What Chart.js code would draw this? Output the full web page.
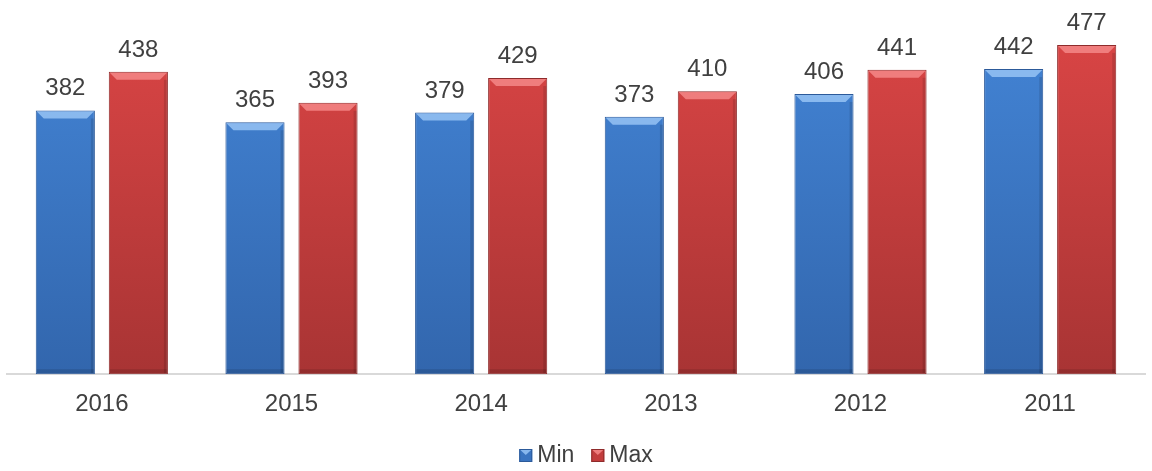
<!DOCTYPE html>
<html>
<head>
<meta charset="utf-8">
<script src="https://cdn.jsdelivr.net/npm/chart.js@4.4.1/dist/chart.umd.min.js"></script>
<style>
    html, body { margin: 0; padding: 0; background: #fff; }
    #wrap { width: 1152px; height: 471px; }
</style>
</head>
<body>
<div id="wrap"><canvas id="chart" width="1152" height="471"></canvas></div>
<script>
const years = ['2016', '2015', '2014', '2013', '2012', '2011'];
const minValues = [382, 365, 379, 373, 406, 442];
const maxValues = [438, 393, 429, 410, 441, 477];

const textColor = '#404040';
const fontFamily = 'Arial, "Liberation Sans", sans-serif';

const seriesStyle = [
    { top: '#4384d5', bottom: '#3266ad', border: '#2c5a9a', light: 'rgba(150,195,245,0.85)', swatch: '#3a74c0' },
    { top: '#da4545', bottom: '#a83434', border: '#8e2b2b', light: 'rgba(245,135,135,0.85)', swatch: '#c23c3c' }
];

// vertical gradient over the chart area for the bar body
function barFill(s) {
    return (context) => {
        const area = context.chart.chartArea;
        if (!area) return s.top;
        const g = context.chart.ctx.createLinearGradient(0, area.top, 0, area.bottom);
        g.addColorStop(0, s.top);
        g.addColorStop(1, s.bottom);
        return g;
    };
}

// bevel on top of each bar, value labels above, legend at the bottom
const bevelAndLabels = {
    id: 'bevelAndLabels',
    afterDatasetsDraw(chart) {
        const ctx = chart.ctx;
        chart.data.datasets.forEach((ds, i) => {
            const meta = chart.getDatasetMeta(i);
            meta.data.forEach((bar, j) => {
                const half = bar.width / 2;
                const b = 8;
                ctx.save();
                ctx.fillStyle = seriesStyle[i].light;
                ctx.beginPath();
                ctx.moveTo(bar.x - half + 1, bar.y + 1);
                ctx.lineTo(bar.x + half - 1, bar.y + 1);
                ctx.lineTo(bar.x + half - b, bar.y + b);
                ctx.lineTo(bar.x - half + b, bar.y + b);
                ctx.closePath();
                ctx.fill();
                ctx.fillStyle = 'rgba(0,0,0,0.12)';
                ctx.fillRect(bar.x + half - 4, bar.y + b, 3, bar.base - bar.y - b - 1);
                ctx.fillRect(bar.x - half + 1, bar.base - 5, bar.width - 2, 4);
                ctx.restore();

                ctx.save();
                ctx.fillStyle = textColor;
                ctx.font = '24px ' + fontFamily;
                ctx.textAlign = 'center';
                ctx.textBaseline = 'alphabetic';
                ctx.fillText(ds.data[j], bar.x, bar.y - 15);
                ctx.restore();
            });
        });
    },
    afterDraw(chart) {
        const ctx = chart.ctx;
        const box = 13, gap = 5, itemGap = 17;
        ctx.save();
        ctx.font = '23px ' + fontFamily;
        const items = chart.data.datasets.map((ds, i) => ({ text: ds.label, w: ctx.measureText(ds.label).width, s: seriesStyle[i] }));
        const total = items.reduce((a, it) => a + box + gap + it.w, 0) + itemGap * (items.length - 1);
        let x = chart.width / 2 + 10 - total / 2;
        const cy = 456;
        items.forEach(it => {
            ctx.fillStyle = it.s.swatch;
            ctx.fillRect(x, cy - 7, box, box);
            ctx.fillStyle = it.s.light;
            ctx.beginPath();
            ctx.moveTo(x, cy - 7);
            ctx.lineTo(x + box, cy - 7);
            ctx.lineTo(x + box / 2, cy - 1);
            ctx.closePath();
            ctx.fill();
            ctx.strokeStyle = it.s.border;
            ctx.lineWidth = 1;
            ctx.strokeRect(x + 0.5, cy - 6.5, box - 1, box - 1);
            x += box + gap;
            ctx.fillStyle = textColor;
            ctx.textBaseline = 'middle';
            ctx.textAlign = 'left';
            ctx.fillText(it.text, x, cy);
            x += it.w + itemGap;
        });
        ctx.restore();
    }
};

new Chart(document.getElementById('chart'), {
    type: 'bar',
    data: {
        labels: years,
        datasets: [
            {
                label: 'Min',
                data: minValues,
                backgroundColor: barFill(seriesStyle[0]),
                borderColor: seriesStyle[0].border,
                borderWidth: 1,
                borderSkipped: false,
                categoryPercentage: 0.77,
                barPercentage: 0.81
            },
            {
                label: 'Max',
                data: maxValues,
                backgroundColor: barFill(seriesStyle[1]),
                borderColor: seriesStyle[1].border,
                borderWidth: 1,
                borderSkipped: false,
                categoryPercentage: 0.77,
                barPercentage: 0.81
            }
        ]
    },
    options: {
        responsive: false,
        animation: false,
        layout: { padding: { left: 7, right: 7, top: 29, bottom: 36 } },
        scales: {
            x: {
                grid: { display: false, drawTicks: false },
                border: { display: true, color: '#d9d9d9', width: 2 },
                ticks: { color: textColor, font: { size: 24, family: fontFamily }, padding: 16 }
            },
            y: {
                display: false,
                min: 0,
                max: 500
            }
        },
        plugins: {
            legend: { display: false },
            tooltip: { enabled: false },
            title: { display: false }
        }
    },
    plugins: [bevelAndLabels]
});
</script>
</body>
</html>
